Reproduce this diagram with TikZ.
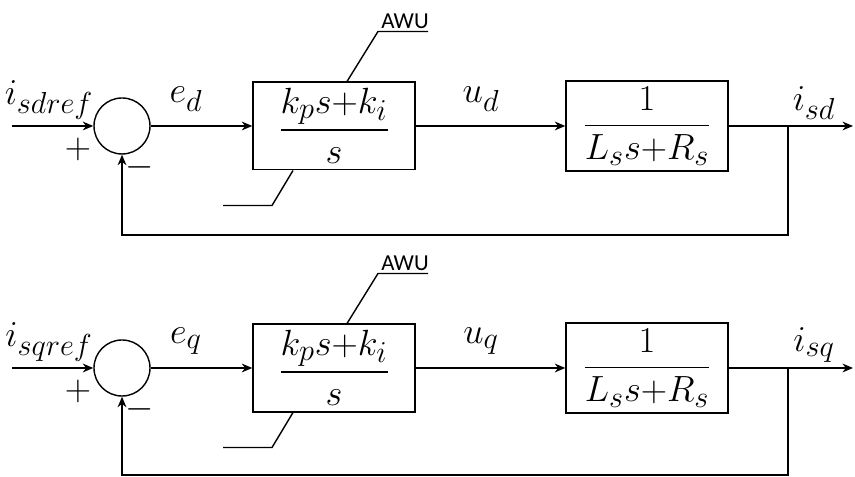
\documentclass[tikz,border=0pt]{standalone}
\usepackage{xcolor}
\usepackage{amsmath}
\usepackage{fontspec}
\newfontfamily\awufont{Carlito}
\usepackage{tikz}
\usetikzlibrary{arrows.meta}
% slightly larger subscripts at \huge
\DeclareMathSizes{20.74}{20.74}{16}{12}

\begin{document}
\begin{tikzpicture}[
            blk/.style={rectangle, draw, line width=0.8pt, minimum width=3.24cm,
                        minimum height=1.68cm, font=\huge},
            sumc/.style={circle, draw, line width=0.8pt, minimum size=1.12cm,
                         inner sep=0pt},
            arr/.style={-{Stealth[length=6pt, width=5pt]}, line width=0.8pt},
            ln/.style={line width=0.8pt},
            lbl/.style={font=\huge, inner sep=0pt},
            awu/.style={font=\awufont\fontsize{13}{15}\selectfont, inner sep=0pt}
          ]
          \useasboundingbox (0,0) rectangle (17.1,9.54);

          % d-axis current loop
          \node[sumc] (sumd) at (2.44, 7.02) {};
          \node[blk] (pid) at (6.68, 7.02) {$\dfrac{k_ps{+}k_i}{s}$};
          \node[blk] (pld) at (12.94, 7.02) {$\dfrac{1}{L_ss{+}R_s}$};
          \coordinate (ind) at (0.24, 7.02);
          \coordinate (brd) at (15.76, 7.02);
          \coordinate (outd) at (17.06, 7.02);
          \coordinate (fbd) at (15.76, 4.84);
          \draw[arr] (ind) -- (sumd);
          \draw[arr] (sumd) -- (pid);
          \draw[arr] (pid) -- (pld);
          \draw[arr] (pld) -- (outd);
          \draw[arr] (brd) -- (fbd) -| (sumd.south);
          \draw[ln] ([xshift=0.26cm]pid.north) -- ++(0.62,1.0) -- ++(1.0,0);
          \draw[ln] ([xshift=-0.82cm]pid.south) -- ++(-0.42,-0.7) -- ++(-0.98,0);
          \node[awu] (awud) at (8.1, 9.12) {AWU};
          \node[lbl] (refd) at (0.98, 7.54) {$i_{sdref}$};
          \node[lbl] (ed) at (3.72, 7.56) {$e_d$};
          \node[lbl] (ud) at (9.62, 7.56) {$u_d$};
          \node[lbl] (isd) at (16.28, 7.48) {$i_{sd}$};
          \node[lbl] (pd) at (1.56, 6.56) {$+$};
          \node[lbl] (md) at (2.8, 6.2) {$-$};

          % q-axis current loop
          \node[sumc] (sumq) at (2.44, 2.18) {};
          \node[blk] (piq) at (6.68, 2.18) {$\dfrac{k_ps{+}k_i}{s}$};
          \node[blk] (plq) at (12.94, 2.18) {$\dfrac{1}{L_ss{+}R_s}$};
          \coordinate (inq) at (0.24, 2.18);
          \coordinate (brq) at (15.76, 2.18);
          \coordinate (outq) at (17.06, 2.18);
          \coordinate (fbq) at (15.76, 0.04);
          \draw[arr] (inq) -- (sumq);
          \draw[arr] (sumq) -- (piq);
          \draw[arr] (piq) -- (plq);
          \draw[arr] (plq) -- (outq);
          \draw[arr] (brq) -- (fbq) -| (sumq.south);
          \draw[ln] ([xshift=0.26cm]piq.north) -- ++(0.62,1.0) -- ++(1.0,0);
          \draw[ln] ([xshift=-0.82cm]piq.south) -- ++(-0.42,-0.7) -- ++(-0.98,0);
          \node[awu] (awuq) at (8.1, 4.28) {AWU};
          \node[lbl] (refq) at (0.98, 2.7) {$i_{sqref}$};
          \node[lbl] (eq) at (3.72, 2.72) {$e_q$};
          \node[lbl] (uq) at (9.62, 2.72) {$u_q$};
          \node[lbl] (isq) at (16.28, 2.64) {$i_{sq}$};
          \node[lbl] (pq) at (1.56, 1.72) {$+$};
          \node[lbl] (mq) at (2.8, 1.36) {$-$};
        \end{tikzpicture}
\end{document}
